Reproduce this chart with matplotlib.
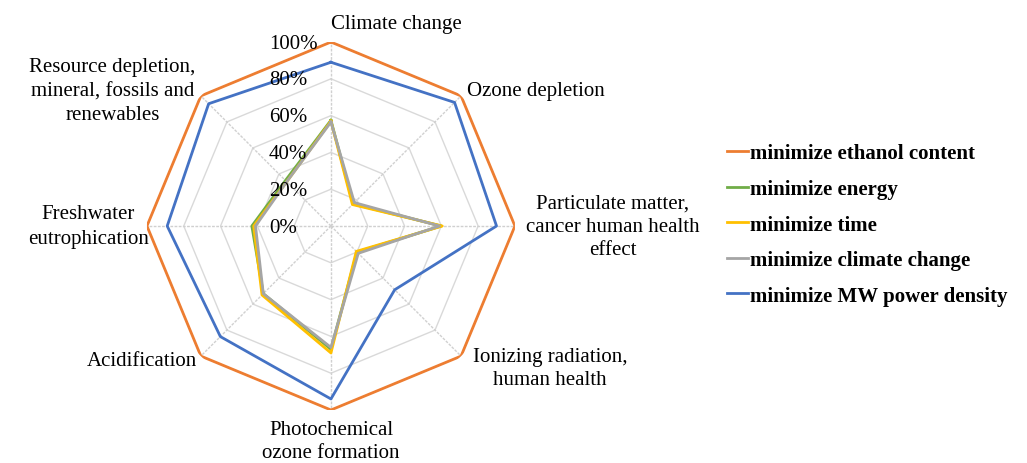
import numpy as np
import matplotlib.pyplot as plt

plt.rcParams['font.family'] = ['Liberation Serif', 'DejaVu Serif']

categories = ['Climate change', 'Ozone depletion',
              'Particulate matter,\ncancer human health\neffect',
              'Ionizing radiation,\nhuman health',
              'Photochemical\nozone formation', 'Acidification',
              'Freshwater\neutrophication',
              'Resource depletion,\nmineral, fossils and\nrenewables']

ethanol = [1.00, 1.00, 1.00, 1.00, 1.00, 1.00, 1.00, 1.00]
energy = [0.575, 0.17, 0.60, 0.20, 0.67, 0.52, 0.43, 0.35]
time_ = [0.57, 0.165, 0.605, 0.195, 0.69, 0.53, 0.42, 0.34]
climate = [0.565, 0.18, 0.59, 0.21, 0.66, 0.52, 0.41, 0.34]
mw_power = [0.89, 0.95, 0.90, 0.49, 0.94, 0.85, 0.89, 0.94]

series = [('minimize ethanol content', ethanol, '#ED7D31'),
          ('minimize energy', energy, '#70AD47'),
          ('minimize time', time_, '#FFC000'),
          ('minimize climate change', climate, '#A5A5A5'),
          ('minimize MW power density', mw_power, '#4472C4')]

ticks = [0, 0.2, 0.4, 0.6, 0.8, 1.0]
tick_labels = ['0%', '20%', '40%', '60%', '80%', '100%']

n = len(categories)
angles = np.arange(n) * 2 * np.pi / n
closed = np.append(angles, angles[0])

fig = plt.figure(figsize=(10.27, 4.64), dpi=100)
ax = fig.add_axes([0.1431, 0.1142, 0.3583, 0.7931], projection='polar')
ax.set_theta_offset(np.pi / 2)
ax.set_theta_direction(-1)
ax.set_ylim(0, 1)
ax.grid(False)
ax.spines['polar'].set_visible(False)
ax.set_xticks([])
ax.set_yticks([])

# octagonal grid
for t in ticks[1:]:
    ax.plot(closed, [t] * (n + 1), color='#D9D9D9', lw=1.0, zorder=1)
for a in angles:
    ax.plot([a, a], [0, 1], color='#D0D0D0', lw=1.0, ls=(0, (2, 1)), zorder=1)

for name, vals, col in series:
    ax.plot(closed, vals + vals[:1], color=col, lw=2.0, label=name, zorder=3)

for t, lab in zip(ticks, tick_labels):
    ax.annotate(lab, xy=(0, t), xytext=(-62, -1), textcoords='offset pixels',
                ha='left', va='center', fontsize=15, zorder=4)

# radius, alignment, line spacing
label_pos = [(1.10, 'left', 1.36), (1.045, 'left', 1.36),
             (1.53, 'center', 1.3), (1.09, 'left', 1.3),
             (1.17, 'center', 1.3), (1.03, 'right', 1.36),
             (1.32, 'center', 1.36), (1.04, 'right', 1.36)]
for a, cat, (r, ha, lsp) in zip(angles, categories, label_pos):
    ax.text(a, r, cat, ha=ha, va='center', multialignment='center',
            fontsize=15, linespacing=lsp)

fig.legend(loc='center left', bbox_to_anchor=(727 / 1027, 0.514),
           frameon=False, borderaxespad=0, borderpad=0,
           handlelength=1.0, handletextpad=0.1, labelspacing=0.75,
           prop={'size': 15, 'weight': 'bold'})

fig.savefig('out.png', dpi=100)
